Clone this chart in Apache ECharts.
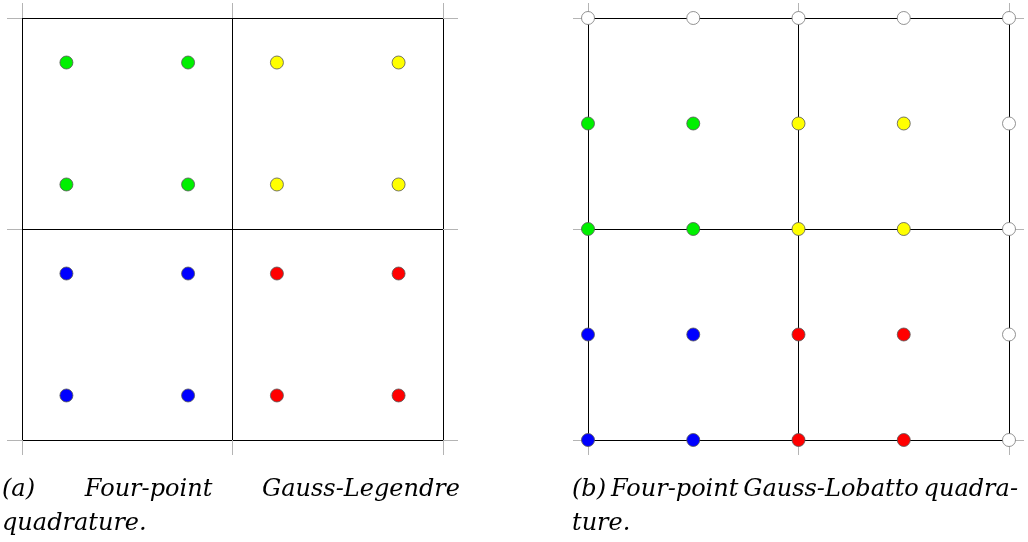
<!DOCTYPE html>
<html>
<head>
<meta charset="utf-8">
<style>
  html, body { margin: 0; padding: 0; background: #fff; }
  #chart { width: 1028px; height: 542px; }
</style>
<script src="https://cdn.jsdelivr.net/npm/echarts@6/dist/echarts.min.js"></script>
</head>
<body>
<div id="chart"></div>
<script>
// Axis ticks (reference element coordinates, two cells per direction)
const axisTicks = [0, 1, 2];

// (a) Four-point Gauss-Legendre: points inside each cell
const legendreGreen  = [[0.211, 1.789], [0.789, 1.789], [0.211, 1.211], [0.789, 1.211]];
const legendreYellow = [[1.211, 1.789], [1.789, 1.789], [1.211, 1.211], [1.789, 1.211]];
const legendreBlue   = [[0.211, 0.789], [0.789, 0.789], [0.211, 0.211], [0.789, 0.211]];
const legendreRed    = [[1.211, 0.789], [1.789, 0.789], [1.211, 0.211], [1.789, 0.211]];

// (b) Gauss-Lobatto: points on the cell edges
const lobattoBlue   = [[0, 0], [0.5, 0], [0, 0.5], [0.5, 0.5]];
const lobattoRed    = [[1, 0], [1.5, 0], [1, 0.5], [1.5, 0.5]];
const lobattoGreen  = [[0, 1], [0.5, 1], [0, 1.5], [0.5, 1.5]];
const lobattoYellow = [[1, 1], [1.5, 1], [1, 1.5], [1.5, 1.5]];
const lobattoWhite  = [[2, 0], [2, 0.5], [2, 1], [2, 1.5], [0, 2], [0.5, 2], [1, 2], [1.5, 2], [2, 2]];

const captionA1 = ['(a)', 'Four-point', 'Gauss-Legendre'];
const captionA2 = 'quadrature.';
const captionB1 = ['(b)', 'Four-point', 'Gauss-Lobatto', 'quadra-'];
const captionB2 = 'ture.';

const chart = echarts.init(document.getElementById('chart'), null, { renderer: 'canvas' });

const LINE = '#000';
const TICK = '#b4b4b4';

function makeAxis(gridIndex, position, withSplit) {
  return {
    type: 'value',
    gridIndex: gridIndex,
    position: position,
    min: axisTicks[0],
    max: axisTicks[axisTicks.length - 1],
    interval: 1,
    axisLine: { show: true, onZero: false, lineStyle: { color: LINE, width: 1 } },
    axisTick: { show: true, inside: false, length: 15, lineStyle: { color: TICK, width: 1 } },
    axisLabel: { show: false },
    splitLine: { show: withSplit, lineStyle: { color: LINE, width: 1 } }
  };
}

function pointSeries(data, color, xi, yi, border) {
  return {
    type: 'scatter',
    xAxisIndex: xi,
    yAxisIndex: yi,
    data: data,
    symbol: 'circle',
    symbolSize: 13,
    silent: true,
    itemStyle: { color: color, borderColor: border || '#555', borderWidth: 0.8, opacity: 1 },
    z: 5
  };
}

const FONT_SIZE = 24;
const FONT_FAMILY = '"DejaVu Serif", serif';
const measureCtx = document.createElement('canvas').getContext('2d');
measureCtx.font = 'italic ' + FONT_SIZE + 'px ' + FONT_FAMILY;

function word(text, x, y) {
  return {
    type: 'text',
    style: {
      text: text, x: x, y: y, align: 'left', verticalAlign: 'middle',
      fontStyle: 'italic', fontSize: FONT_SIZE, fontFamily: FONT_FAMILY, fill: '#000'
    },
    silent: true
  };
}

// Spread the words of a justified caption line between two x positions
function justified(words, x0, x1, y) {
  const widths = words.map(w => measureCtx.measureText(w).width);
  const total = widths.reduce((a, b) => a + b, 0);
  const gap = (x1 - x0 - total) / (words.length - 1);
  const out = [];
  let x = x0;
  words.forEach((w, i) => {
    out.push(word(w, x, y));
    x += widths[i] + gap;
  });
  return out;
}

const line1Y = 490;
const line2Y = 524;

chart.setOption({
  animation: false,
  backgroundColor: '#fff',
  grid: [
    { left: 22, top: 18, width: 421, height: 422 },
    { left: 588, top: 18, width: 421, height: 422 }
  ],
  xAxis: [
    makeAxis(0, 'bottom', true),
    makeAxis(0, 'top', false),
    makeAxis(1, 'bottom', true),
    makeAxis(1, 'top', false)
  ],
  yAxis: [
    makeAxis(0, 'left', true),
    makeAxis(0, 'right', false),
    makeAxis(1, 'left', true),
    makeAxis(1, 'right', false)
  ],
  series: [
    pointSeries(legendreGreen, '#00f000', 0, 0),
    pointSeries(legendreYellow, '#ffff00', 0, 0),
    pointSeries(legendreBlue, '#0000ff', 0, 0),
    pointSeries(legendreRed, '#ff0000', 0, 0),
    pointSeries(lobattoBlue, '#0000ff', 2, 2),
    pointSeries(lobattoRed, '#ff0000', 2, 2),
    pointSeries(lobattoGreen, '#00f000', 2, 2),
    pointSeries(lobattoYellow, '#ffff00', 2, 2),
    pointSeries(lobattoWhite, '#ffffff', 2, 2, '#777')
  ],
  graphic: [].concat(
    justified(captionA1, 2, 460, line1Y),
    [word(captionA2, 2, line2Y)],
    justified(captionB1, 572, 1018, line1Y),
    [word(captionB2, 572, line2Y)]
  )
});
</script>
</body>
</html>
